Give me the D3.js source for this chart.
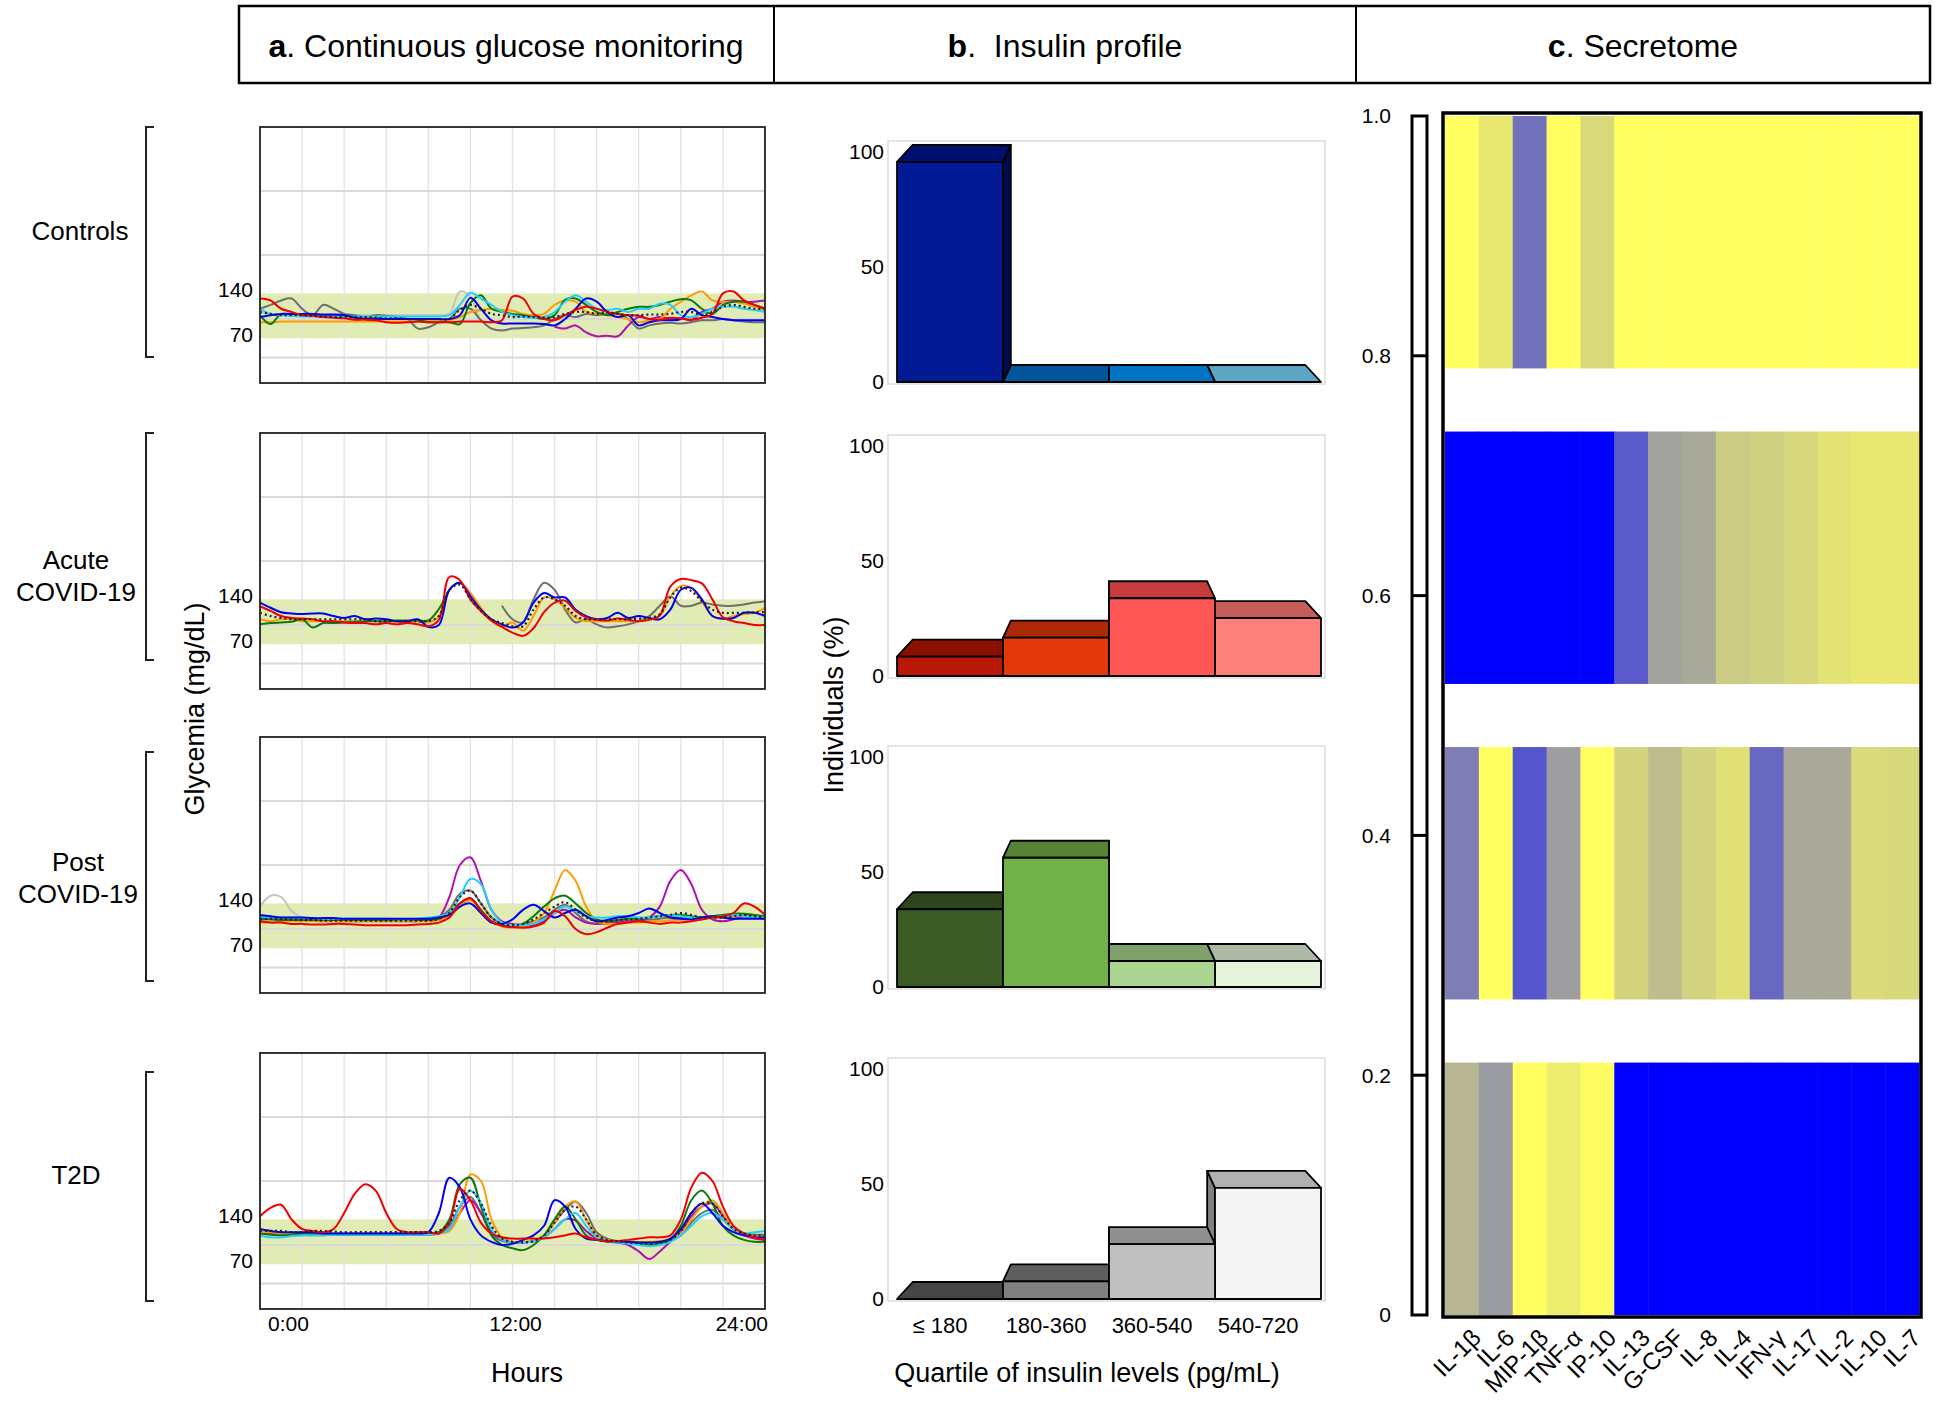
<!DOCTYPE html>
<html><head><meta charset="utf-8">
<script src="https://cdn.jsdelivr.net/npm/d3@7"></script>
<style>
html,body{margin:0;padding:0;background:#fff;}
svg{display:block;font-family:"Liberation Sans",Arial,Helvetica,sans-serif;}
</style></head><body>
<svg id="chart" width="1950" height="1403"></svg>
<script>
// ---------------- DATA ----------------
const groups = ["Controls", "Acute COVID-19", "Post COVID-19", "T2D"];
const groupLabels = [["Controls"], ["Acute", "COVID-19"], ["Post", "COVID-19"], ["T2D"]];
const hoursAxis = d3.range(0, 24.01, 0.5);          // sampling times (h)
const hourTicks = [0, 12, 24];
const hourTickLabels = ["0:00", "12:00", "24:00"];
const glyTicks = [140, 70];
const glyGrid = [40, 100, 200, 300];
const targetRange = [70, 140];
const N = null;

// CGM traces (mg/dL, every 30 min); keys are individual series ids
const cgmControls = {
  pH: [111,108,106,106,106,106,106,106,106,106,106,106,106,106,106,106,106,106,108,143,135,98,95,N,N,N,N,N,N,N,N,N,N,N,N,N,N,N,N,N,N,N,N,N,N,N,N,N,N],
  pG: [116,122,129,132,116,106,122,116,108,106,103,106,105,103,100,85,87,95,100,116,116,98,85,82,85,86,87,90,100,106,103,108,106,108,108,100,85,90,93,94,93,95,98,98,100,98,96,95,95],
  pF: [N,N,N,N,N,N,N,N,N,N,N,N,N,N,N,N,N,N,N,N,N,N,N,N,N,N,N,N,88,85,90,79,73,74,73,90,103,100,103,100,101,98,111,116,127,129,127,127,129],
  pD: [95,95,96,96,96,96,96,96,96,96,96,96,96,96,96,96,98,98,98,103,111,114,116,114,113,108,106,108,122,129,127,111,108,106,103,100,95,98,100,116,127,137,143,129,127,127,124,119,114],
  pB: [106,92,108,106,106,106,106,105,106,104,103,102,100,100,100,99,95,95,95,92,125,137,116,111,108,106,103,100,106,130,132,122,111,106,111,116,119,119,122,127,131,129,116,108,122,127,127,122,116],
  pE: [116,108,106,105,104,104,104,104,104,104,104,104,104,104,104,104,104,104,106,122,141,132,122,111,106,103,102,103,111,127,137,127,116,114,116,111,116,116,124,122,106,103,108,116,119,119,116,114,111],
  pC: [103,106,108,108,108,108,107,107,106,102,100,100,100,100,100,100,100,100,100,106,133,116,98,93,93,93,93,92,90,100,116,132,127,111,103,106,90,95,98,98,100,116,106,103,100,98,98,98,98],
  pA: [132,129,116,111,106,105,103,102,101,99,99,98,95,94,95,96,95,95,95,96,96,96,95,98,135,132,108,100,98,106,114,119,116,111,108,106,105,100,99,102,101,99,102,108,140,143,129,122,116],
  median: [111,108,106,106,106,105,104,103,103,103,103,102,101,101,100,100,100,100,100,114,122,116,108,106,103,104,103,102,103,108,111,111,108,111,108,106,106,107,107,108,111,111,106,111,119,122,119,116,116]
};
const cgmAcute = {
  pG: [N,N,N,N,N,N,N,N,N,N,N,N,N,N,N,N,N,N,N,N,N,N,N,130,109,104,140,166,155,124,104,109,101,96,98,101,106,114,130,145,130,130,135,132,130,130,132,135,137],
  pB: [101,103,104,105,109,96,103,103,104,105,106,106,106,107,107,107,107,125,155,N,N,N,N,N,N,N,N,N,N,N,N,N,N,N,N,N,N,N,N,N,N,N,N,N,N,N,N,N,N],
  pD: [109,106,109,109,106,106,106,105,106,106,106,106,105,105,105,105,104,114,155,166,150,127,106,98,104,91,114,143,140,127,111,106,106,106,106,106,106,109,114,145,161,158,137,114,109,114,117,119,127],
  pC: [135,127,120,118,117,118,118,114,111,114,109,110,109,106,106,109,97,100,155,166,145,124,109,101,96,104,135,150,143,143,124,114,109,111,119,111,114,111,109,124,155,158,140,114,110,111,119,119,114],
  pA: [129,122,114,111,110,109,106,106,104,103,103,101,103,101,103,101,98,108,175,170,140,122,107,97,88,83,95,120,135,138,122,112,108,107,110,108,106,108,115,160,172,170,165,140,112,106,103,100,100],
  median: [119,114,111,109,109,109,109,109,109,109,109,106,106,106,106,106,106,114,155,163,140,122,109,103,98,98,124,143,140,130,114,109,109,109,109,109,110,111,117,143,158,153,137,124,119,119,119,120,120]
};
const cgmPost = {
  pH: [135,152,150,128,118,116,115,115,115,115,115,115,115,115,115,115,115,N,N,N,N,N,N,N,N,N,N,N,N,N,N,N,N,N,N,N,N,N,N,N,N,N,N,N,N,N,N,N,N],
  pG: [118,116,115,115,114,114,114,114,114,114,114,114,114,114,114,114,114,118,130,155,160,140,118,108,106,108,112,118,130,138,125,112,108,110,112,112,114,114,116,118,118,116,116,118,118,120,120,118,118],
  pF: [118,116,115,114,114,113,112,112,112,112,112,112,112,112,112,112,114,118,150,200,212,175,130,112,108,106,106,112,125,130,118,110,108,108,110,112,112,118,135,175,192,170,130,115,112,115,120,118,116],
  pD: [110,110,112,112,112,112,112,112,112,112,112,112,112,112,112,112,112,114,120,135,145,130,112,104,102,104,110,125,160,192,175,135,112,108,108,110,110,112,112,114,114,116,116,118,118,120,120,120,120],
  pB: [115,115,114,114,114,114,114,114,114,114,114,114,114,114,114,114,114,116,125,140,148,130,112,106,104,108,120,135,148,152,140,125,115,112,114,116,116,118,120,122,122,120,118,120,122,124,124,122,120],
  pE: [120,118,118,118,117,117,116,116,116,116,116,116,116,115,115,116,118,120,125,150,178,170,130,110,106,106,108,115,125,135,128,120,118,118,120,120,118,118,120,122,120,118,116,118,120,122,120,118,118],
  pC: [122,120,118,118,118,117,117,117,116,116,116,116,116,116,116,116,116,118,122,135,140,125,110,108,115,130,138,128,118,125,130,120,112,114,118,120,125,132,125,118,116,115,118,120,118,116,116,116,116],
  pA: [112,110,110,108,108,107,107,108,108,107,106,106,106,106,106,107,108,110,118,140,148,128,112,105,103,102,104,110,128,120,100,92,95,102,108,110,112,110,108,110,110,112,115,118,120,125,140,135,122],
  median: [115,116,116,115,114,114,113,113,113,113,113,113,113,113,113,113,113,116,125,150,160,140,118,108,106,108,115,125,135,142,130,118,112,112,114,115,116,118,120,122,125,122,118,118,118,120,122,120,118]
};
const cgmT2D = {
  pG: [118,118,118,118,118,118,118,118,118,118,118,118,118,118,118,118,118,120,130,160,175,150,118,106,104,104,106,115,135,155,168,150,120,110,106,104,104,104,105,108,115,135,150,155,140,125,118,116,116],
  pF: [120,118,118,118,117,117,117,116,116,116,116,116,116,116,116,116,116,118,125,150,170,150,120,108,104,104,106,112,125,140,138,122,110,106,104,100,90,78,90,105,120,145,160,165,145,125,115,110,108],
  pE: [115,112,112,114,115,115,115,116,116,116,116,116,116,116,116,116,116,118,125,160,185,165,125,108,104,104,106,112,125,140,150,130,112,106,104,102,100,98,100,105,115,130,145,150,140,125,118,120,122],
  pD: [120,120,118,118,118,118,118,118,118,118,118,118,118,118,118,118,118,118,122,150,210,200,140,112,105,105,108,115,135,160,168,140,115,108,106,106,105,105,106,110,118,140,160,170,150,125,115,112,112],
  pB: [118,116,115,116,118,118,118,117,117,117,117,117,117,117,118,118,118,120,140,195,205,160,115,100,95,92,100,115,140,160,140,115,108,105,104,103,102,100,102,108,130,170,185,165,130,115,108,105,105],
  pC: [125,122,120,120,120,120,118,118,118,118,118,118,118,118,118,118,120,150,205,190,140,115,105,100,102,108,115,130,170,160,125,110,108,106,106,105,104,104,105,110,125,150,165,150,130,120,115,112,112],
  pA: [145,158,163,140,125,122,120,125,150,180,195,185,150,125,120,120,120,118,135,188,170,135,118,112,110,110,110,110,112,115,118,112,108,106,106,108,110,112,112,115,140,190,213,200,160,130,118,112,108],
  median: [122,122,122,120,120,122,122,121,120,120,120,120,120,120,120,120,120,122,135,170,185,165,130,110,105,104,106,115,135,155,160,140,115,108,106,104,103,102,104,108,122,150,165,165,145,125,118,115,115]
};

// Insulin profile (% of individuals per quartile)
const quartiles = ["\u2264 180", "180-360", "360-540", "540-720"];
const insTicks = [0, 50, 100];
const insControls = [95.7, 0, 0, 0];
const insAcute = [8.4, 16.7, 33.8, 25.2];
const insPost = [33.8, 56.2, 11.3, 11.3];
const insT2D = [0, 7.7, 23.9, 48.3];

// Secretome (relative level: -1 low/blue ... +1 high/yellow)
const cytokines = ["IL-1\u03b2","IL-6","MIP-1\u03b2","TNF-\u03b1","IP-10","IL-13","G-CSF","IL-8","IL-4","IFN-\u03b3","IL-17","IL-2","IL-10","IL-7"];
const secControls = [1, 0.76, -0.29, 1, 0.6, 1, 1, 1, 1, 1, 1, 1, 1, 1];
const secAcute = [-1, -1, -1, -1, -1, -0.44, 0.02, 0.09, 0.45, 0.5, 0.57, 0.69, 0.76, 0.76];
const secPost = [-0.21, 1, -0.46, -0.01, 1, 0.55, 0.3, 0.54, 0.67, -0.35, 0.08, 0.09, 0.61, 0.58];
const secT2D = [0.23, -0.03, 1, 0.8, 0.98, -1, -1, -1, -1, -1, -1, -1, -1, -1];
const secTicks = [0, 0.2, 0.4, 0.6, 0.8, 1.0];

// ---------------- STYLE ----------------
const seriesColor = {pA:"#f00000", pB:"#0b7a0b", pC:"#0000f0", pD:"#ff9a00", pE:"#1fd0ff", pF:"#b010b0", pG:"#6e6e6e", pH:"#c4c4c4", median:"#222"};
const drawOrder = ["pH","pG","pF","pD","pB","pE","pC","pA","median"];
const barFront = [
  ["#021a94","#045a9c","#0278c8","#62abc8"],
  ["#b81805","#e2380a","#ff5656","#ff7f7a"],
  ["#3b5a24","#72b04a","#aad48f","#e6f3dc"],
  ["#303030","#808080","#c0c0c0","#f5f5f5"]];
const barTop = [
  ["#00106e","#03559a","#0274c4","#5aa6c4"],
  ["#8a1000","#ad2a08","#c63c3e","#c55e5a"],
  ["#2c431c","#578238","#80a06c","#acb9a4"],
  ["#454545","#5f5f5f","#8f8f8f","#b0b0b0"]];

const cgmData = [cgmControls, cgmAcute, cgmPost, cgmT2D];
const insData = [insControls, insAcute, insPost, insT2D];
const secData = [secControls, secAcute, secPost, secT2D];

const svg = d3.select("#chart");
const FONT = 21;
const BIG = 27;

// ---------------- HEADER ----------------
const header = svg.append("g");
header.append("rect").attr("x", 239).attr("y", 6).attr("width", 1691).attr("height", 77)
  .attr("fill", "none").attr("stroke", "#000").attr("stroke-width", 2.5);
[774, 1356].forEach(x => header.append("line").attr("x1", x).attr("x2", x).attr("y1", 6).attr("y2", 83)
  .attr("stroke", "#000").attr("stroke-width", 2));
[["a", ". Continuous glucose monitoring", 506], ["b", ".  Insulin profile", 1065], ["c", ". Secretome", 1643]].forEach(([b, t, x]) => {
  const tx = header.append("text").attr("x", x).attr("y", 46).attr("dy", "0.35em")
    .attr("text-anchor", "middle").attr("font-size", 32).attr("fill", "#000");
  tx.append("tspan").attr("font-weight", "bold").text(b);
  tx.append("tspan").style("white-space", "pre").text(t);
});

// ---------------- GROUP LABELS & BRACKETS ----------------
const labelPos = [[80, 231], [76, 576], [78, 878], [76, 1175]];
const brackets = [[127, 357], [433, 660], [752, 981], [1072, 1301]];
groups.forEach((g, i) => {
  const lines = groupLabels[i];
  const t = svg.append("text").attr("text-anchor", "middle").attr("font-size", 26).attr("fill", "#000");
  lines.forEach((l, k) => t.append("tspan").attr("x", labelPos[i][0])
    .attr("y", labelPos[i][1] + (k - (lines.length - 1) / 2) * 32).attr("dy", "0.35em").text(l));
  const [y0, y1] = brackets[i];
  svg.append("path").attr("d", `M154,${y0} H146 V${y1} H154`).attr("fill", "none")
    .attr("stroke", "#222").attr("stroke-width", 2);
});

// ---------------- CGM PANELS ----------------
const cgmX = d3.scaleLinear().domain([0, 24]).range([260, 765]);
const cgmTops = [127, 433, 737, 1053];
const cgmH = 256;
cgmData.forEach((data, i) => {
  const top = cgmTops[i];
  const y = d3.scaleLinear().domain([0, 400]).range([top + cgmH, top]);
  const g = svg.append("g");
  const clipId = "clipcgm" + i;
  g.append("clipPath").attr("id", clipId).append("rect")
    .attr("x", cgmX(0)).attr("y", top).attr("width", cgmX(24) - cgmX(0)).attr("height", cgmH);
  g.append("rect").attr("x", cgmX(0)).attr("y", y(targetRange[1])).attr("width", cgmX(24) - cgmX(0))
    .attr("height", y(targetRange[0]) - y(targetRange[1])).attr("fill", "#e1ebb4");
  d3.range(2, 24, 2).forEach(h => g.append("line").attr("x1", cgmX(h)).attr("x2", cgmX(h))
    .attr("y1", top).attr("y2", top + cgmH).attr("stroke", "#e2e2e2").attr("stroke-width", 1.3));
  glyGrid.forEach(v => g.append("line").attr("x1", cgmX(0)).attr("x2", cgmX(24))
    .attr("y1", y(v)).attr("y2", y(v)).attr("stroke", "#d9d9d9").attr("stroke-width", 2));
  const line = d3.line().defined(d => d[1] != null).x(d => cgmX(d[0])).y(d => y(d[1]))
    .curve(d3.curveCatmullRom.alpha(0.5));
  const lg = g.append("g").attr("clip-path", `url(#${clipId})`);
  drawOrder.forEach(k => {
    if (!data[k]) return;
    const pts = data[k].map((v, j) => [hoursAxis[j], v]);
    lg.append("path").attr("d", line(pts)).attr("fill", "none")
      .attr("stroke", seriesColor[k]).attr("stroke-width", k === "median" ? 2.2 : 2)
      .attr("stroke-dasharray", k === "median" ? "2,3" : null)
      .attr("stroke-linejoin", "round");
  });
  g.append("rect").attr("x", cgmX(0)).attr("y", top).attr("width", cgmX(24) - cgmX(0)).attr("height", cgmH)
    .attr("fill", "none").attr("stroke", "#222").attr("stroke-width", 1.8);
  glyTicks.forEach(v => g.append("text").attr("x", 253).attr("y", y(v) - 4).attr("dy", "0.35em")
    .attr("text-anchor", "end").attr("font-size", FONT).text(v));
});
// hours axis
hourTicks.forEach((h, k) => {
  const anchor = k === 0 ? "start" : (k === 2 ? "end" : "middle");
  const off = k === 0 ? 8 : 3;
  svg.append("text").attr("x", cgmX(h) + off).attr("y", 1324).attr("dy", "0.35em")
    .attr("text-anchor", anchor).attr("font-size", FONT).text(hourTickLabels[k]);
});
svg.append("text").attr("x", 527).attr("y", 1373).attr("dy", "0.35em").attr("text-anchor", "middle")
  .attr("font-size", BIG).text("Hours");
svg.append("text").attr("transform", "translate(195,709) rotate(-90)").attr("dy", "0.35em")
  .attr("text-anchor", "middle").attr("font-size", BIG).text("Glycemia (mg/dL)");

// ---------------- INSULIN PANELS ----------------
const insTops = [141, 435, 746, 1058];
const insFrameH = 243;
const insX = d3.scaleBand().domain(quartiles).range([897, 1321]);
const cxV = (897 + 1321) / 2, kP = 0.926, depth = 17;
const back = x => cxV + (x - cxV) * kP;
insData.forEach((vals, i) => {
  const top = insTops[i];
  const base = top + insFrameH - 2;
  const y = d3.scaleLinear().domain([0, 100]).range([base, base - 230]);
  const g = svg.append("g");
  g.append("rect").attr("x", 888).attr("y", top).attr("width", 437).attr("height", insFrameH)
    .attr("fill", "#fff").attr("stroke", "#dcdcdc").attr("stroke-width", 1.5);
  const bw = insX.bandwidth();
  [0, 3, 1, 2].forEach(j => {
    const x0 = insX(quartiles[j]), x1 = x0 + bw, yT = y(vals[j]), yB = base;
    const bg = g.append("g").attr("stroke", "#000").attr("stroke-width", 1.8).attr("stroke-linejoin", "round");
    const xs = (x0 + x1) / 2 < cxV ? x1 : x0;
    if (vals[j] > 0) {
      bg.append("path").attr("d", `M${xs},${yT} L${back(xs)},${yT - depth} L${back(xs)},${yB - depth} L${xs},${yB} Z`)
        .attr("fill", d3.color(barTop[i][j]).darker(0.9));
    }
    bg.append("path").attr("d", `M${x0},${yT} L${x1},${yT} L${back(x1)},${yT - depth} L${back(x0)},${yT - depth} Z`)
      .attr("fill", barTop[i][j]);
    if (vals[j] > 0) {
      bg.append("rect").attr("x", x0).attr("y", yT).attr("width", bw).attr("height", yB - yT)
        .attr("fill", barFront[i][j]);
    }
  });
  insTicks.forEach(v => g.append("text").attr("x", 884).attr("y", y(v)).attr("dy", "0.35em")
    .attr("text-anchor", "end").attr("font-size", FONT).text(v));
});
quartiles.forEach(q => svg.append("text").attr("x", insX(q) + insX.bandwidth() / 2 - 10).attr("y", 1325)
  .attr("dy", "0.35em").attr("text-anchor", "middle").attr("font-size", 22).text(q));
svg.append("text").attr("x", 1087).attr("y", 1373).attr("dy", "0.35em").attr("text-anchor", "middle")
  .attr("font-size", BIG).text("Quartile of insulin levels (pg/mL)");
svg.append("text").attr("transform", "translate(834,705) rotate(-90)").attr("dy", "0.35em")
  .attr("text-anchor", "middle").attr("font-size", BIG).text("Individuals (%)");

// ---------------- SECRETOME HEATMAP ----------------
const hmX = d3.scaleBand().domain(cytokines).range([1445, 1919]);
const hmY = d3.scaleLinear().domain([0, 1]).range([1315, 116]);
const rowBand = d3.scaleBand().domain(groups).range([0, 1]).paddingInner(0.2);
const secColor = d3.scaleLinear().domain([-1, 0, 1]).range(["#0000ff", "#a0a0a0", "#ffff62"]);
const hg = svg.append("g");
secData.forEach((vals, i) => {
  const vTop = 1 - rowBand(groups[i]);
  const vBot = vTop - rowBand.bandwidth();
  vals.forEach((v, j) => {
    hg.append("rect").attr("x", hmX(cytokines[j])).attr("y", hmY(vTop))
      .attr("width", hmX.bandwidth() + 0.5).attr("height", hmY(vBot) - hmY(vTop))
      .attr("fill", secColor(v));
  });
});
hg.append("rect").attr("x", 1443).attr("y", 113).attr("width", 478).attr("height", 1204)
  .attr("fill", "none").attr("stroke", "#000").attr("stroke-width", 3.5);
// left scale bar
hg.append("rect").attr("x", 1412).attr("y", hmY(1)).attr("width", 15).attr("height", hmY(0) - hmY(1))
  .attr("fill", "#fff").attr("stroke", "#000").attr("stroke-width", 3);
secTicks.forEach(v => {
  if (v > 0 && v < 1) hg.append("line").attr("x1", 1412).attr("x2", 1427).attr("y1", hmY(v)).attr("y2", hmY(v))
    .attr("stroke", "#000").attr("stroke-width", 3);
  hg.append("text").attr("x", 1391).attr("y", hmY(v)).attr("dy", "0.35em").attr("text-anchor", "end")
    .attr("font-size", FONT).text(v === 0 ? "0" : d3.format(".1f")(v));
});
cytokines.forEach(c => {
  hg.append("text").attr("transform", `translate(${hmX(c) + hmX.bandwidth() / 2 + 8},1327) rotate(-45)`)
    .attr("dy", "0.72em").attr("text-anchor", "end").attr("font-size", 24).text(c);
});
</script>
</body></html>
